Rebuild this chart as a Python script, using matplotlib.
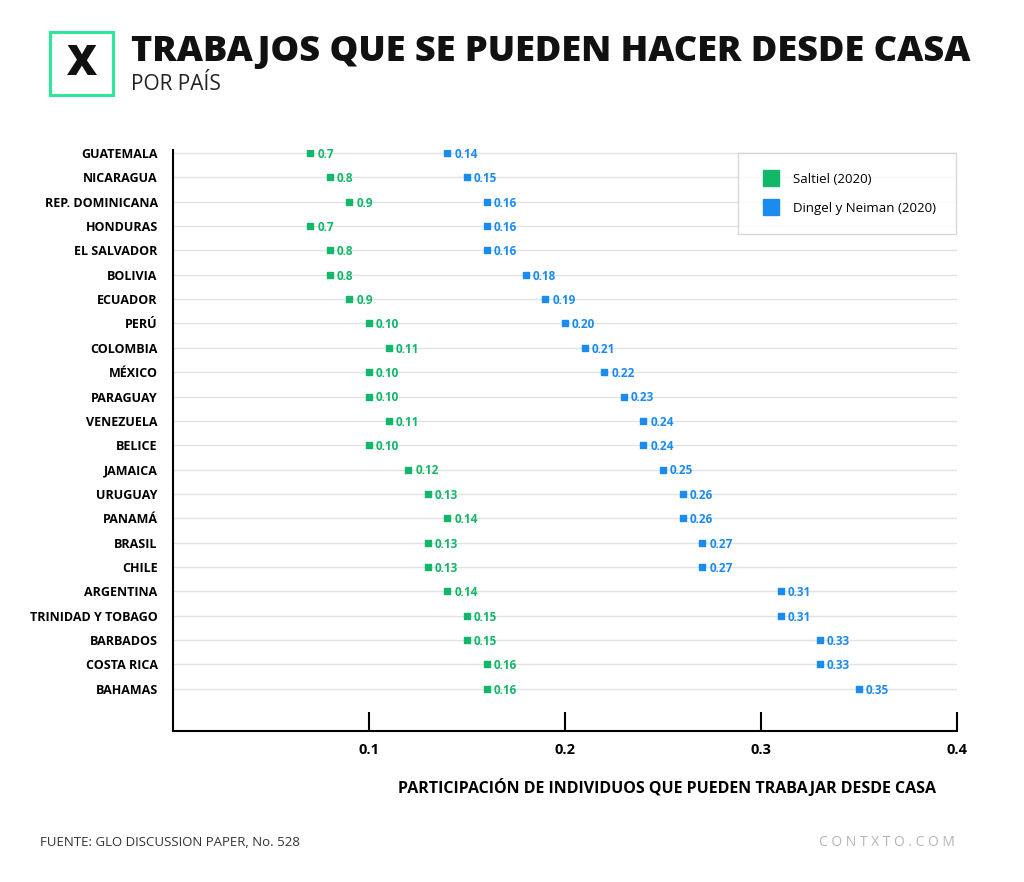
import numpy as np
import matplotlib.pyplot as plt
from matplotlib.patches import Rectangle

countries = [
    "GUATEMALA", "NICARAGUA", "REP. DOMINICANA", "HONDURAS", "EL SALVADOR",
    "BOLIVIA", "ECUADOR", "PERÚ", "COLOMBIA", "MÉXICO", "PARAGUAY",
    "VENEZUELA", "BELICE", "JAMAICA", "URUGUAY", "PANAMÁ", "BRASIL",
    "CHILE", "ARGENTINA", "TRINIDAD Y TOBAGO", "BARBADOS", "COSTA RICA",
    "BAHAMAS",
]
saltiel = [0.07, 0.08, 0.09, 0.07, 0.08, 0.08, 0.09, 0.10, 0.11, 0.10, 0.10,
           0.11, 0.10, 0.12, 0.13, 0.14, 0.13, 0.13, 0.14, 0.15, 0.15, 0.16, 0.16]
# labels as printed in the original (first ones lack the leading zero)
saltiel_labels = ["0.7", "0.8", "0.9", "0.7", "0.8", "0.8", "0.9", "0.10",
                  "0.11", "0.10", "0.10", "0.11", "0.10", "0.12", "0.13",
                  "0.14", "0.13", "0.13", "0.14", "0.15", "0.15", "0.16", "0.16"]
dingel = [0.14, 0.15, 0.16, 0.16, 0.16, 0.18, 0.19, 0.20, 0.21, 0.22, 0.23,
          0.24, 0.24, 0.25, 0.26, 0.26, 0.27, 0.27, 0.31, 0.31, 0.33, 0.33, 0.35]
xticks = [0.1, 0.2, 0.3, 0.4]

green = "#12b76a"
blue = "#1a8cf0"
plt.rcParams["font.family"] = ["Open Sans", "DejaVu Sans"]

fig = plt.figure(figsize=(10.24, 8.82), dpi=100)
ax = fig.add_axes([173 / 1024, 151 / 882, 784 / 1024, 581 / 882])

y = np.arange(len(countries))
for yi in y:
    ax.axhline(yi, color="#e2e2e2", lw=1.0, zorder=0)

ax.scatter(saltiel, y, marker="s", s=18, color=green, zorder=3)
ax.scatter(dingel, y, marker="s", s=18, color=blue, zorder=3)
for yi, v, lab in zip(y, saltiel, saltiel_labels):
    ax.annotate(lab, (v, yi), xytext=(5, -1), textcoords="offset points",
                va="center", ha="left", fontsize=8.5, fontweight="bold", color=green)
for yi, v in zip(y, dingel):
    ax.annotate(f"{v:.2f}", (v, yi), xytext=(5, -1), textcoords="offset points",
                va="center", ha="left", fontsize=8.5, fontweight="bold", color=blue)

ax.set_xlim(0, 0.4)
ax.set_ylim(23.73, -0.12)
ax.set_yticks(y)
ax.set_yticklabels(countries, fontsize=9, fontweight="bold")
ax.tick_params(axis="y", length=0, pad=11)
ax.set_xticks(xticks)
ax.set_xticklabels([str(t) for t in xticks], fontsize=10.5, fontweight="bold")
ax.tick_params(axis="x", direction="in", length=14, width=1.5, pad=9)
for s in ["top", "right"]:
    ax.spines[s].set_visible(False)
for s in ["left", "bottom"]:
    ax.spines[s].set_linewidth(1.5)
ax.set_xlabel("PARTICIPACIÓN DE INDIVIDUOS QUE PUEDEN TRABAJAR DESDE CASA",
              fontsize=11.5, fontweight="bold")
ax.xaxis.set_label_coords(0.63, -0.082)

# legend box
leg = ax.legend(
    handles=[plt.Line2D([], [], marker="s", ls="", color=green, markersize=11),
             plt.Line2D([], [], marker="s", ls="", color=blue, markersize=11)],
    labels=["Saltiel (2020)", "Dingel y Neiman (2020)"],
    loc="upper right", bbox_to_anchor=(0.999, 0.995), fontsize=9.5,
    frameon=True, fancybox=False, borderpad=1.5, labelspacing=1.2,
    handletextpad=0.7, borderaxespad=0.0)
leg.get_frame().set_edgecolor("#d0d0d0")
leg.get_frame().set_linewidth(1.0)

# header
fig.patches.append(Rectangle((50 / 1024, 1 - 95 / 882), 63 / 1024, 63 / 882,
                             transform=fig.transFigure, fill=False,
                             edgecolor="#2ee89a", lw=2.2))
fig.text(81.5 / 1024, 1 - 64 / 882, "X", fontsize=30, fontweight="heavy",
         ha="center", va="center", color="#111111")
fig.text(131 / 1024, 1 - 52 / 882, "TRABAJOS QUE SE PUEDEN HACER DESDE CASA",
         fontsize=26, fontweight="heavy", ha="left", va="center", color="#111111")
fig.text(131 / 1024, 1 - 84 / 882, "POR PAÍS", fontsize=15,
         ha="left", va="center", color="#222222")

# footer
fig.text(40 / 1024, 1 - 843 / 882, "FUENTE: GLO DISCUSSION PAPER, No. 528",
         fontsize=9.5, ha="left", va="center", color="#333333")
fig.text(955 / 1024, 1 - 843 / 882, "C O N T X T O . C O M",
         fontsize=10, ha="right", va="center", color="#b5b5b5")

fig.savefig("out.png", dpi=100, facecolor="white")
